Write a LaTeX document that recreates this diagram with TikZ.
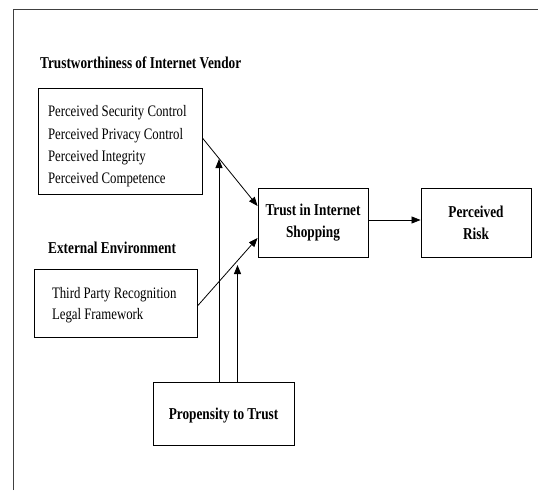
\documentclass[tikz,border=0pt]{standalone}
\usepackage{fontspec}
\setmainfont{Liberation Serif}[FakeStretch=0.8]
\usetikzlibrary{arrows.meta}
\tikzset{
  box/.style={draw, line width=0.9pt, inner sep=0pt, align=center},
  reg/.style={font=\fontsize{16}{22.3}\selectfont},
  bld/.style={font=\fontsize{16.6}{22}\selectfont\bfseries},
  ttl/.style={inner sep=0pt, anchor=west},
  arr/.style={line width=0.8pt, -{Triangle[length=9pt,width=7pt]}},
  frame/.style={line width=0.9pt, draw=black!75}
}
\begin{document}
\begin{tikzpicture}[x=1pt,y=-1pt]
\useasboundingbox (0,0) rectangle (538,490);
\draw[frame] (13,490) -- (13,9.5) -- (538,9.5);

\node[ttl,bld] (t1) at (40,63) {Trustworthiness of Internet Vendor};
\node[box,reg,align=flush left,minimum width=164pt,minimum height=106pt,text width=144pt,inner xsep=10pt] (tv) at (120,141)
  {\rule{0pt}{22pt}Perceived Security Control\\Perceived Privacy Control\\Perceived Integrity\\Perceived Competence};

\node[ttl,bld] (t2) at (48,248) {External Environment};
\node[box,reg,align=flush left,minimum width=163pt,minimum height=68pt,text width=127pt,inner xsep=18pt,font=\fontsize{16}{20.6}\selectfont] (ee) at (115.5,303)
  {\rule{0pt}{15pt}Third Party Recognition\\Legal Framework};

\node[box,bld,minimum width=110pt,minimum height=69pt] (ts) at (313,222.5)
  {Trust in Internet\\Shopping};
\node[box,bld,minimum width=110pt,minimum height=69pt] (pr) at (476,222.5)
  {Perceived\\Risk};
\node[box,bld,minimum width=141pt,minimum height=63pt,text depth=0pt] (pt) at (223.5,413.5)
  {Propensity to Trust};

\coordinate (v1) at (219,159);
\coordinate (v2) at (237.5,265);

\draw[arr] ([yshift=3pt]tv.east) -- ([yshift=16.5pt]ts.west);
\draw[arr] ([yshift=-3pt]ee.east) -- ([yshift=-15.5pt]ts.west);
\draw[arr] ([yshift=2.5pt]ts.east) -- ([yshift=2.5pt]pr.west);
\draw[arr] (pt.north -| v1) -- (v1);
\draw[arr] (pt.north -| v2) -- (v2);
\end{tikzpicture}
\end{document}
